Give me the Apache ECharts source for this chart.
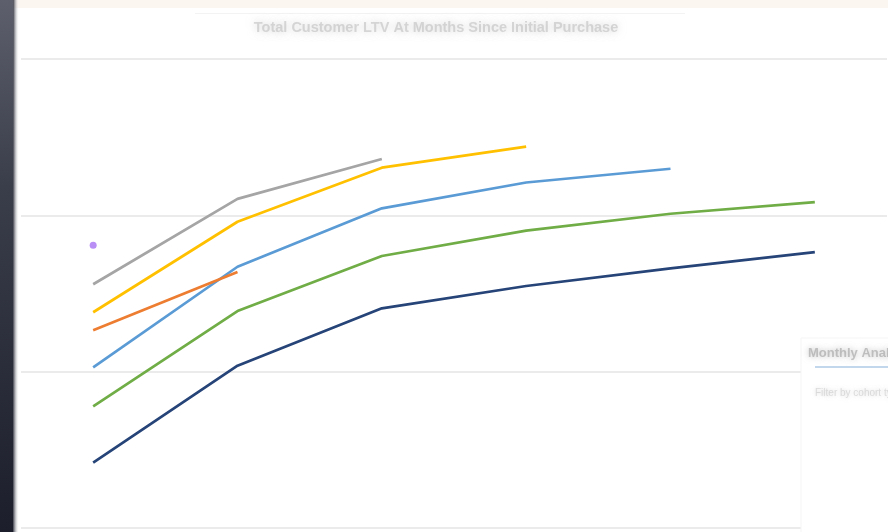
<!DOCTYPE html>
<html>
<head>
<meta charset="utf-8">
<script src="https://cdn.jsdelivr.net/npm/echarts@6/dist/echarts.min.js"></script>
<style>
html,body{margin:0;padding:0;background:#fff;}
#c{width:888px;height:532px;}
</style>
</head>
<body>
<div id="c"></div>
<script>
const categories = ['1', '2', '3', '4', '5', '6'];
const cohortNames = ['Cohort 1', 'Cohort 2', 'Cohort 3', 'Cohort 4', 'Cohort 5', 'Cohort 6', 'Cohort 7'];
const navyValues   = [41.8, 103.8, 140.5, 154.8, 166.1, 176.5];
const greenValues  = [77.8, 138.8, 174.0, 190.2, 201.0, 208.5];
const blueValues   = [102.8, 167.1, 204.5, 221.0, 229.8, null];
const orangeValues = [126.5, 163.8, null, null, null, null];
const yellowValues = [138.0, 195.9, 230.5, 243.9, null, null];
const grayValues   = [155.9, 210.5, 236.0, null, null, null];
const purpleValues = [180.8, null, null, null, null, null];
const yTicks = [0, 100, 200, 300];

const seriesValues = [navyValues, greenValues, blueValues, orangeValues, yellowValues, grayValues, purpleValues];
const colors = ['#264478', '#70ad47', '#5b9bd5', '#ed7d31', '#ffc000', '#a5a5a5', '#b98ef5'];

const chart = echarts.init(document.getElementById('c'), null, {renderer: 'canvas'});

const series = seriesValues.map((vals, i) => ({
  name: cohortNames[i],
  type: 'line',
  data: vals,
  color: colors[i],
  showSymbol: i === 6,
  symbol: 'circle',
  symbolSize: 7,
  lineStyle: {width: 2.7, color: colors[i]},
  itemStyle: {color: colors[i]},
  connectNulls: false,
  silent: true,
  animation: false,
  z: 3
}));

chart.setOption({
  animation: false,
  backgroundColor: '#ffffff',
  grid: {left: 21, right: 1, top: 59, bottom: 4, containLabel: false},
  xAxis: {
    type: 'category',
    data: categories,
    boundaryGap: true,
    axisLine: {show: false},
    axisTick: {show: false},
    axisLabel: {show: false}
  },
  yAxis: {
    type: 'value',
    min: yTicks[0],
    max: yTicks[yTicks.length - 1],
    interval: yTicks[1] - yTicks[0],
    axisLine: {show: false},
    axisTick: {show: false},
    axisLabel: {show: false},
    splitLine: {lineStyle: {color: '#e4e4e4', width: 1.5}}
  },
  series: series,
  graphic: [
    {type: 'rect', shape: {x: 0, y: 0, width: 888, height: 8}, style: {fill: '#fcf6f1'}, z: 10, silent: true},
    {type: 'rect', shape: {x: 195, y: 13, width: 490, height: 1}, style: {fill: '#f3f3f3'}, z: 10, silent: true},
    {type: 'text', x: 436, y: 28, style: {
      text: 'Total Customer LTV At Months Since Initial Purchase',
      fill: 'rgba(185,185,185,0.55)', font: 'bold 14.5px "Liberation Sans", sans-serif',
      align: 'center', verticalAlign: 'middle',
      textShadowColor: 'rgba(175,175,175,1)', textShadowBlur: 8
    }, z: 10, silent: true},
    // left bezel
    {type: 'rect', shape: {x: 0, y: 0, width: 13, height: 532}, style: {
      fill: new echarts.graphic.LinearGradient(0, 0, 0, 1, [
        {offset: 0, color: '#5d606c'}, {offset: 0.35, color: '#3a3d4a'}, {offset: 1, color: '#1c1e2b'}
      ])
    }, z: 20, silent: true},
    {type: 'rect', shape: {x: 13, y: 0, width: 6, height: 532}, style: {
      fill: new echarts.graphic.LinearGradient(0, 0, 1, 0, [
        {offset: 0, color: 'rgba(40,42,55,0.9)'}, {offset: 1, color: 'rgba(255,255,255,0)'}
      ])
    }, z: 20, silent: true},
    // right overlay card
    {type: 'rect', shape: {x: 801, y: 338, width: 90, height: 200}, style: {fill: '#ffffff', stroke: '#f5f5f5', lineWidth: 1}, z: 10, silent: true},
    {type: 'text', x: 808, y: 353, style: {
      text: 'Monthly Analysis', fill: 'rgba(160,160,160,0.6)', font: 'bold 13px "Liberation Sans", sans-serif',
      verticalAlign: 'middle', textShadowColor: 'rgba(150,150,150,1)', textShadowBlur: 6
    }, z: 11, silent: true},
    {type: 'rect', shape: {x: 815, y: 366, width: 80, height: 2}, style: {fill: '#c3d7ec'}, z: 11, silent: true},
    {type: 'text', x: 815, y: 393, style: {
      text: 'Filter by cohort type', fill: 'rgba(200,200,200,0.6)', font: '10px "Liberation Sans", sans-serif',
      verticalAlign: 'middle', textShadowColor: 'rgba(190,190,190,1)', textShadowBlur: 4
    }, z: 11, silent: true}
  ]
});
</script>
</body>
</html>
